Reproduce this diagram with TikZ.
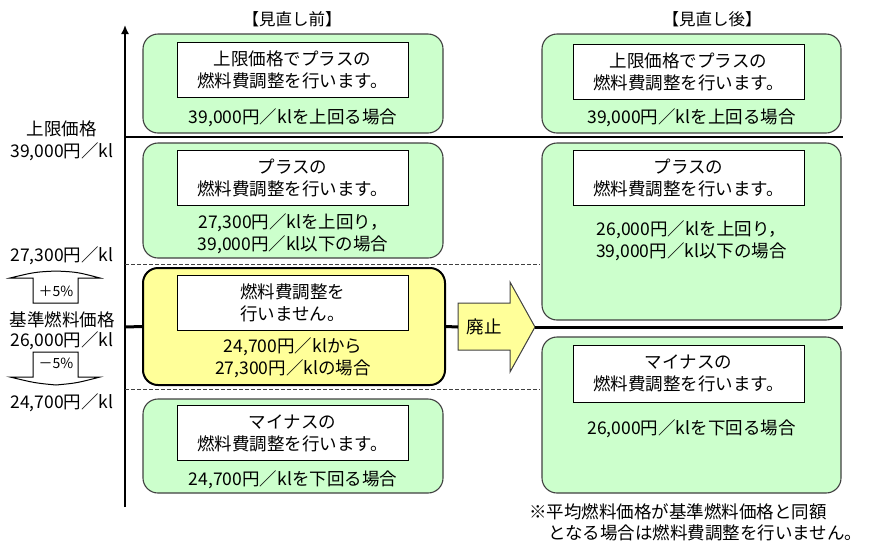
\documentclass[tikz,border=0pt]{standalone}
\usepackage{fontspec}
\setmainfont{Noto Sans CJK JP}
\usetikzlibrary{arrows.meta}

\definecolor{zoneGreen}{HTML}{CCFFCC}
\definecolor{zoneYellow}{HTML}{FFFF99}
\definecolor{zoneEdge}{HTML}{404040}

\newcommand{\planfont}{\fontsize{17.5}{22}\selectfont}
\newcommand{\headfont}{\fontsize{16.5}{20}\selectfont}
\newcommand{\smallplanfont}{\fontsize{14}{16}\selectfont}

\tikzset{
  zone/.style={draw=zoneEdge, line width=1.1pt, rounded corners=15pt, fill=zoneGreen,
               minimum width=300pt, inner sep=0pt},
  nozone/.style={zone, fill=zoneYellow, draw=black, line width=2pt},
  msg/.style={draw=black, line width=1pt, fill=white, minimum width=231pt,
              minimum height=55pt, align=center, font=\planfont, inner sep=0pt},
  cond/.style={align=center, font=\planfont, inner sep=0pt},
  lbl/.style={font=\planfont, inner sep=0pt},
  axisline/.style={line width=1.6pt, -{Latex[length=9pt,width=8pt]}},
  capline/.style={line width=1.1pt},
  stepline/.style={line width=1pt, dashed, dash pattern=on 4pt off 2pt, draw=zoneEdge},
  baseprice/.style={line width=3pt},
  hollow/.style={draw=black, line width=1pt, fill=white},
}

\begin{document}
\begin{tikzpicture}[x=1pt,y=-1pt]
\useasboundingbox (0,0) rectangle (872,542);

% headings
\node[lbl, font=\headfont] (hBefore) at (292,19) {【見直し前】};
\node[lbl, font=\headfont] (hAfter) at (712,19) {【見直し後】};

% price axis
\coordinate (axTop) at (125,25);
\coordinate (axBot) at (125,507);
\draw[axisline] (axBot) -- (axTop);

%---------------------
% before
\node[zone, minimum height=99pt]  (b1) at (293,83.5) {};
\node[zone, minimum height=115pt] (b2) at (293,200.5) {};
\node[nozone, minimum width=302pt, minimum height=117pt] (b3) at (294,326.5) {};
\node[zone, minimum height=94pt]  (b4) at (293,446) {};

\node[msg] (b1m) at (292.5,69.5)  {上限価格でプラスの\\燃料費調整を行います。};
\node[msg] (b2m) at (292.5,177.5) {プラスの\\燃料費調整を行います。};
\node[msg] (b3m) at (292.5,302.5) {燃料費調整を\\行いません。};
\node[msg] (b4m) at (292.5,433)   {マイナスの\\燃料費調整を行います。};

\node[cond] (b1c) at (293,118)   {39,000円／klを上回る場合};
\node[cond] (b2c) at (293,233.5) {27,300円／klを上回り，\\39,000円／kl以下の場合};
\node[cond] (b3c) at (293,357.5) {24,700円／klから\\27,300円／klの場合};
\node[cond] (b4c) at (293,480)   {24,700円／klを下回る場合};

%---------------------
% after
\node[zone, minimum width=299pt, minimum height=99pt]  (a1) at (691.5,83.5) {};
\node[zone, minimum width=299pt, minimum height=177pt] (a2) at (691.5,231.5) {};
\node[zone, minimum width=299pt, minimum height=156pt] (a3) at (691.5,415) {};

\node[msg] (a1m) at (688.5,72)    {上限価格でプラスの\\燃料費調整を行います。};
\node[msg] (a2m) at (688.5,177.5) {プラスの\\燃料費調整を行います。};
\node[msg, minimum height=57pt] (a3m) at (688.5,373.5) {マイナスの\\燃料費調整を行います。};

\node[cond] (a1c) at (691.5,118)   {39,000円／klを上回る場合};
\node[cond] (a2c) at (691.5,240.5) {26,000円／klを上回り，\\39,000円／kl以下の場合};
\node[cond] (a3c) at (691.5,429)   {26,000円／klを下回る場合};

%---------------------
% price lines
\coordinate (capL) at (125,137);
\coordinate (capR) at (843,137);
\draw[capline] (capL) -- (capR);

\coordinate (upL) at (125,264);
\coordinate (upR) at (540,264);
\draw[stepline] (upL) -- (upR);

\coordinate (lowL) at (125,389);
\coordinate (lowR) at (540,389);
\draw[stepline] (lowL) -- (lowR);

%abolish arrow
\coordinate (abTail) at (458,327);
\coordinate (abTip) at (535,327);
\coordinate (baseL) at (125,327);
\coordinate (baseR) at (843,327);
\draw[draw=zoneEdge, line width=1pt, fill=zoneYellow]
  (458,303) -- (510,303) -- (510,282) -- (abTip) -- (510,372) -- (510,350) -- (458,350) -- cycle;
\node[lbl] (abolish) at (484,327) {廃止};

\draw[baseprice] (baseL) -- (b3.west);
\draw[baseprice] (b3.east) -- (abTail);
\draw[baseprice] (abTip) -- (baseR);

%---------------------
% left labels
\node[lbl] (capName)  at (62,129) {上限価格};
\node[lbl] (capVal)   at (62,152) {39,000円／kl};
\node[lbl] (upVal)    at (62,256) {27,300円／kl};
\node[lbl] (baseName) at (62,320) {基準燃料価格};
\node[lbl] (baseVal)  at (62,341) {26,000円／kl};
\node[lbl] (lowVal)   at (62,403) {24,700円／kl};

% +5% / -5%
\draw[hollow] (33,303) -- (33,278) -- (10,278) .. controls (35,272) .. (56,271)
  .. controls (77,272) .. (100,278) -- (78,278) -- (78,303) -- cycle;
\node[font=\smallplanfont, inner sep=0pt] (plusFive) at (56,291) {＋5\%};
\draw[hollow] (33,352) -- (33,377) -- (10,377) .. controls (35,383) .. (56,385)
  .. controls (77,383) .. (100,377) -- (78,377) -- (78,352) -- cycle;
\node[font=\smallplanfont, inner sep=0pt] (minusFive) at (56,363) {－5\%};

% note
\node[lbl, anchor=west] (noteA) at (529,512) {※平均燃料価格が基準燃料価格と同額};
\node[lbl, anchor=west] (noteB) at (548,533) {となる場合は燃料費調整を行いません。};

\end{tikzpicture}
\end{document}
